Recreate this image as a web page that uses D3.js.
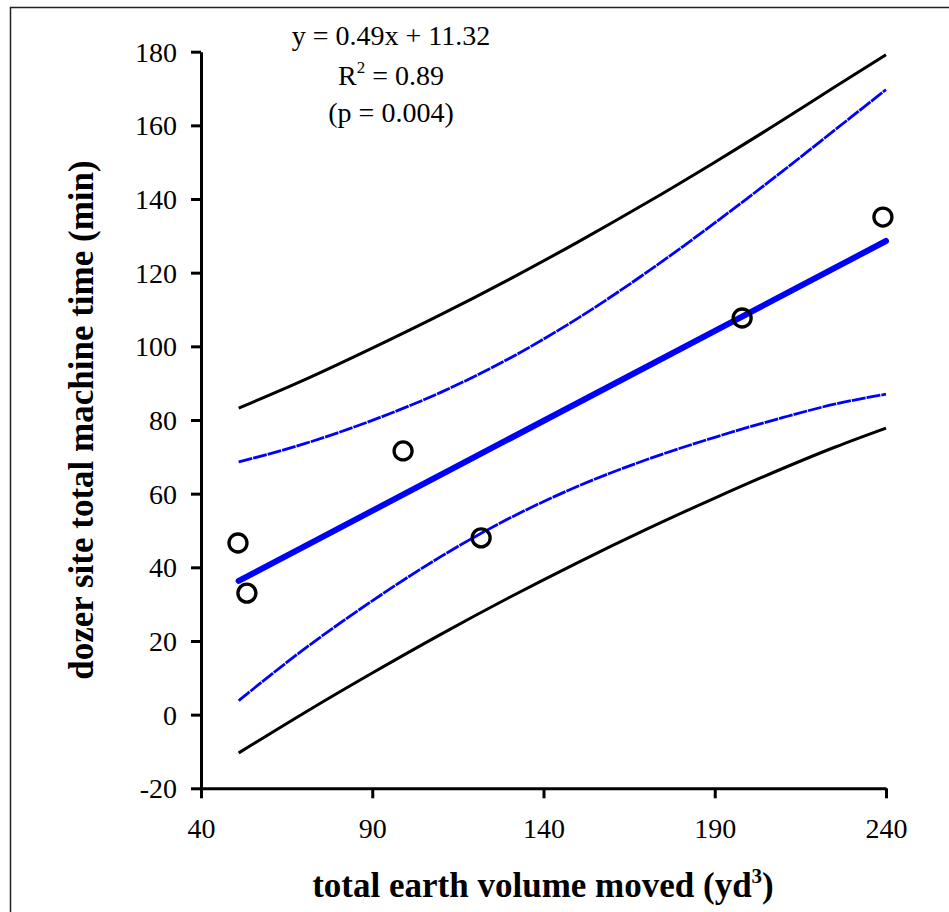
<!DOCTYPE html>
<html><head><meta charset="utf-8">
<script src="https://cdn.jsdelivr.net/npm/d3@7"></script>
<style>
html,body{margin:0;padding:0;background:#fff;}
svg{display:block;}
text{font-family:"Liberation Serif","Times New Roman",serif;fill:#000;}
</style></head>
<body>
<script>
// ---- data ----
const pointsX = [50.8, 53.4, 99.0, 121.8, 198.0, 239.1];
const pointsY = [46.6, 33.0, 71.6, 48.0, 107.7, 135.1];

const fitX = [51, 240];
const fitY = [36.3, 128.6];

const bandX      = [51, 70, 90, 110, 130, 150, 170, 190, 210, 225, 240];
const ciUpper    = [68.6, 73.5, 79.9, 87.5, 96.7, 107.6, 120.0, 133.5, 147.7, 158.7, 169.7];
const ciLower    = [3.8, 17.7, 30.9, 42.9, 53.3, 62.0, 69.2, 75.3, 80.7, 84.3, 87.0];
const piUpper    = [83.2, 90.8, 99.5, 108.6, 118.2, 128.3, 138.9, 150.0, 161.5, 170.4, 179.2];
const piLower    = [-10.4, 0.4, 11.3, 21.8, 31.8, 41.3, 50.3, 58.8, 66.9, 72.6, 77.8];

const xTicks = [40, 90, 140, 190, 240];
const yTicks = [-20, 0, 20, 40, 60, 80, 100, 120, 140, 160, 180];

const annotation = ["y = 0.49x + 11.32", "R", "(p = 0.004)"];
const xTitle = "total earth volume moved (yd";
const yTitle = "dozer site total machine time (min)";

// ---- drawing ----
const W = 949, H = 912;
const svg = d3.select("body").append("svg").attr("width", W).attr("height", H);

svg.append("rect").attr("x", 10.5).attr("y", 7.5).attr("width", 1200).attr("height", 1200)
  .attr("fill", "none").attr("stroke", "#222").attr("stroke-width", 1.5);

const x = d3.scaleLinear().domain([40, 240]).range([201, 886]);
const y = d3.scaleLinear().domain([-20, 180]).range([788.3, 51.7]);

const line = d3.line().x(d => x(d[0])).y(d => y(d[1])).curve(d3.curveMonotoneX);
const pairs = arr => bandX.map((v, i) => [v, arr[i]]);

// prediction bands (black)
[piUpper, piLower].forEach(a => {
  svg.append("path").attr("d", line(pairs(a))).attr("fill", "none")
    .attr("stroke", "#000").attr("stroke-width", 3);
});
// confidence bands (blue thin)
[ciUpper, ciLower].forEach(a => {
  svg.append("path").attr("d", line(pairs(a))).attr("fill", "none")
    .attr("stroke", "#0000ff").attr("stroke-width", 2.8).attr("stroke-dasharray", "14,1");
});
// regression line
svg.append("path").attr("d", d3.line().x(d => x(d[0])).y(d => y(d[1]))(fitX.map((v, i) => [v, fitY[i]])))
  .attr("fill", "none").attr("stroke", "#0000ff").attr("stroke-width", 6).attr("stroke-linecap", "round");

// points
svg.selectAll("circle.pt").data(pointsX.map((v, i) => [v, pointsY[i]])).enter().append("circle")
  .attr("cx", d => x(d[0])).attr("cy", d => y(d[1])).attr("r", 9)
  .attr("fill", "none").attr("stroke", "#000").attr("stroke-width", 3.3);

// axes
const fmt = d => String(d);
const yAxis = d3.axisLeft(y).tickValues(yTicks).tickFormat(fmt).tickSize(10).tickSizeOuter(0).tickPadding(14);
const gy = svg.append("g").attr("transform", `translate(${x(40)},0)`).call(yAxis);
const xAxis = d3.axisBottom(x).tickValues(xTicks).tickFormat(fmt).tickSize(10).tickSizeOuter(0).tickPadding(20);
const gx = svg.append("g").attr("transform", `translate(0,${y(-20)})`).call(xAxis);
[gx, gy].forEach(g => {
  g.select(".domain").attr("stroke", "#000").attr("stroke-width", 3);
  g.selectAll(".tick line").attr("stroke", "#000").attr("stroke-width", 3);
  g.selectAll(".tick text").attr("font-family", "Liberation Serif, Times New Roman, serif")
    .attr("font-size", 28).attr("fill", "#000");
});
gy.selectAll(".tick text").attr("dy", "0.34em");
gx.selectAll(".tick text").attr("dy", "0.71em");

// annotation
const ax = 391;
svg.append("text").attr("x", ax).attr("y", 45).attr("text-anchor", "middle").attr("font-size", 28).text(annotation[0]);
const r2 = svg.append("text").attr("x", ax).attr("y", 85).attr("text-anchor", "middle").attr("font-size", 28);
r2.append("tspan").text(annotation[1]);
r2.append("tspan").attr("font-size", 17).attr("dy", -12).text("2");
r2.append("tspan").attr("dy", 12).text(" = 0.89");
svg.append("text").attr("x", ax).attr("y", 122).attr("text-anchor", "middle").attr("font-size", 28).text(annotation[2]);

// axis titles
const xt = svg.append("text").attr("x", 543).attr("y", 897).attr("text-anchor", "middle")
  .attr("font-size", 35).attr("font-weight", "bold");
xt.append("tspan").text(xTitle);
xt.append("tspan").attr("font-size", 21).attr("dy", -14).text("3");
xt.append("tspan").attr("dy", 14).text(")");

svg.append("text").attr("transform", "translate(93,420) rotate(-90)").attr("text-anchor", "middle")
  .attr("font-size", 35).attr("font-weight", "bold").text(yTitle);
</script>
</body></html>
